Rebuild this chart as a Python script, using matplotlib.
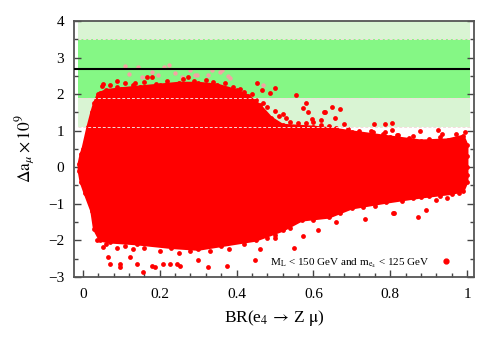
import matplotlib
matplotlib.use('Agg')
import matplotlib.pyplot as plt
from matplotlib.lines import Line2D
from matplotlib.ticker import MultipleLocator

plt.rcParams['font.family'] = ['Liberation Serif', 'DejaVu Serif']
plt.rcParams['mathtext.fontset'] = 'stix'

# envelope of the dense cloud of points
up_x = [-0.01, -0.005, 0.0, 0.013, 0.023, 0.03, 0.04, 0.06, 0.1, 0.15, 0.2, 0.25,
        0.3, 0.35, 0.4, 0.43, 0.46, 0.49, 0.52, 0.6, 0.65, 0.7, 0.8, 0.88, 0.95, 0.99, 1.0]
up_y = [0.1, 0.35, 0.5, 1.1, 1.5, 1.75, 2.0, 2.1, 2.15, 2.2, 2.25, 2.3,
        2.3, 2.25, 2.1, 1.95, 1.7, 1.35, 1.15, 1.1, 1.05, 0.97, 0.83, 0.72, 0.75, 0.85, 0.6]
lo_x = [-0.01, -0.005, 0.005, 0.023, 0.03, 0.045, 0.07, 0.14, 0.23, 0.3, 0.36, 0.45,
        0.52, 0.57, 0.64, 0.7, 0.79, 0.88, 0.96, 0.99, 1.0]
lo_y = [-0.1, -0.4, -0.7, -1.2, -1.7, -2.0, -2.05, -2.1, -2.2, -2.25, -2.15, -2.0,
        -1.73, -1.45, -1.37, -1.12, -0.96, -0.82, -0.72, -0.65, -0.4]

# points sitting on the ragged edge of the cloud
edge_x = [0.05, 0.07, 0.09, 0.11, 0.13, 0.16, 0.19, 0.22, 0.26, 0.29, 0.32, 0.34, 0.37,
          0.39, 0.41, 0.42, 0.44, 0.45, 0.47, 0.48, 0.5, 0.51, 0.53, 0.54, 0.56, 0.58,
          0.6, 0.62, 0.64, 0.66, 0.69, 0.72, 0.75, 0.78, 0.82, 0.85, 0.9, 0.93, 0.97,
          0.06, 0.09, 0.11, 0.13, 0.16, 0.2, 0.25, 0.28, 0.33, 0.38, 0.42, 0.48, 0.5,
          0.54, 0.6, 0.67, 0.73, 0.76, 0.83, 0.86, 0.9, 0.93, 0.98, 1.0, 1.0, 1.0]
edge_y = [2.22, 2.25, 2.2, 2.3, 2.25, 2.33, 2.28, 2.35, 2.4, 2.35, 2.38, 2.32, 2.3,
          2.2, 2.15, 2.05, 2.0, 1.85, 1.75, 1.65, 1.55, 1.4, 1.35, 1.25, 1.22, 1.2,
          1.25, 1.15, 1.12, 1.08, 1.05, 1.0, 0.98, 0.9, 0.88, 0.8, 0.78, 0.82, 0.9,
          -2.1, -2.2, -2.15, -2.25, -2.2, -2.3, -2.35, -2.3, -2.3, -2.25, -2.1, -1.95, -1.85,
          -1.65, -1.45, -1.25, -1.1, -1.05, -0.92, -0.85, -0.8, -0.78, -0.7, 0.3, -0.2, 0.0]

# isolated red points outside the dense cloud
out_x = [0.453, 0.50, 0.555, 0.58, 0.573, 0.586, 0.63, 0.596, 0.62, 0.52, 0.487, 0.466,
         0.648, 0.67, 0.628, 0.656, 0.68, 0.758, 0.786, 0.805, 0.786, 0.805, 0.925, 0.935,
         0.995, 0.878, 0.818, 0.86, 0.755, 0.975, 0.052, 0.088, 0.167, 0.18, 0.273, 0.135,
         0.044,
         0.036, 0.052, 0.065, 0.096, 0.096, 0.14, 0.156, 0.18, 0.188, 0.122, 0.227, 0.245,
         0.30, 0.07, 0.208, 0.253, 0.326, 0.375, 0.448, 0.461, 0.55, 0.573, 0.612, 0.734,
         0.81, 0.872, 0.893, 0.948, 0.807, 0.5, 0.66, 0.92]
out_y = [2.31, 2.17, 1.98, 1.76, 1.62, 1.51, 1.51, 1.32, 1.29, 1.46, 2.03, 2.12,
         1.65, 1.59, 1.51, 1.35, 1.18, 1.18, 1.18, 1.21, 0.96, 1.02, 1.02, 0.91,
         0.96, 0.99, 0.88, 0.85, 0.96, 0.75, 2.28, 2.36, 2.47, 2.47, 2.47, 2.31,
         2.03,
         -2.0, -2.17, -2.47, -2.64, -2.72, -2.66, -2.86, -2.69, -2.72, -2.47, -2.64, -2.64,
         -2.55, -2.64, -2.64, -2.69, -2.72, -2.69, -2.53, -2.23, -2.2, -1.87, -1.73, -1.43,
         -1.24, -1.37, -1.18, -0.85, -1.26, -1.95, -1.5, -0.9]

# faded points at the top
pink_x = [0.109, 0.143, 0.12, 0.154, 0.18, 0.224, 0.195, 0.24, 0.258, 0.297, 0.28,
          0.292, 0.326, 0.357, 0.383, 0.469, 0.336, 0.362, 0.378, 0.21]
pink_y = [2.77, 2.75, 2.55, 2.47, 2.61, 2.8, 2.53, 2.58, 2.47, 2.53, 2.66,
          2.53, 2.53, 2.61, 2.44, 2.25, 2.66, 2.66, 2.5, 2.75]

band_outer = (1.1, 4.0)
band_inner = (1.9, 3.5)
central = 2.7

fig = plt.figure(figsize=(5, 3.5), dpi=100)
ax = fig.add_axes([0.148, 0.209, 0.80, 0.731])

ax.fill_between([-0.013, 1.008], band_outer[0], band_outer[1], color='#d9f4d3', lw=0, zorder=0)
ax.fill_between([-0.013, 1.008], band_inner[0], band_inner[1], color='#85f785', lw=0, zorder=0)

ax.scatter(pink_x, pink_y, s=10, color='#f4a3a3', lw=0, zorder=1)

poly_x = up_x + lo_x[::-1]
poly_y = up_y + lo_y[::-1]
ax.fill(poly_x, poly_y, color='red', lw=2, ec='red', zorder=2)
ax.scatter(up_x + lo_x, up_y + lo_y, s=12, color='red', lw=0, zorder=2)
ax.scatter(edge_x, edge_y, s=12, color='red', lw=0, zorder=2)
ax.scatter(out_x, out_y, s=12, color='red', lw=0, zorder=2)

for yy in [band_outer[0], band_inner[0], band_inner[1]]:
    ax.hlines(yy, -0.013, 1.008, colors='#f5dcdc', linestyles=(0, (3, 2)), lw=0.7, zorder=3)
ax.hlines(central, -0.023, 1.008, colors='black', lw=1.5, zorder=4)

ax.set_xlim(-0.023, 1.018)
ax.set_ylim(-3, 4)
ax.xaxis.set_minor_locator(MultipleLocator(0.04))
ax.yaxis.set_major_locator(MultipleLocator(1))
ax.yaxis.set_minor_locator(MultipleLocator(0.5))
ax.set_xticks([0, 0.2, 0.4, 0.6, 0.8, 1.0])
ax.set_xticklabels(['0', '0.2', '0.4', '0.6', '0.8', '1'])
ax.tick_params(which='both', direction='in', right=True, top=False, labelsize=11,
               color='#444444')
ax.tick_params(which='major', length=5, width=1)
ax.tick_params(which='minor', length=3, width=1)
ax.tick_params(axis='x', pad=8)
ax.tick_params(axis='y', pad=7)
for sp in ax.spines.values():
    sp.set_color('#555555')
    sp.set_linewidth(1.3)

ax.set_xlabel(r'BR(e$_4$$\,\rightarrow\,$Z $\mathrm{\mu}$)', fontsize=12.5, labelpad=5)
ax.set_ylabel(r'$\Delta\mathrm{a}_{\mu}\times 10^{9}$', fontsize=12.5, labelpad=8)

h = Line2D([], [], marker='o', ls='none', color='red', markersize=3.5)
ax.legend([h], [r'M$_{\rm L}$ < 150 GeV and m$_{\rm e_4}$ < 125 GeV'], loc='lower right',
          bbox_to_anchor=(0.955, 0.01), markerfirst=False, frameon=False, fontsize=8,
          handletextpad=1.0, borderaxespad=0, handlelength=1)

fig.savefig('out.png', dpi=100)
